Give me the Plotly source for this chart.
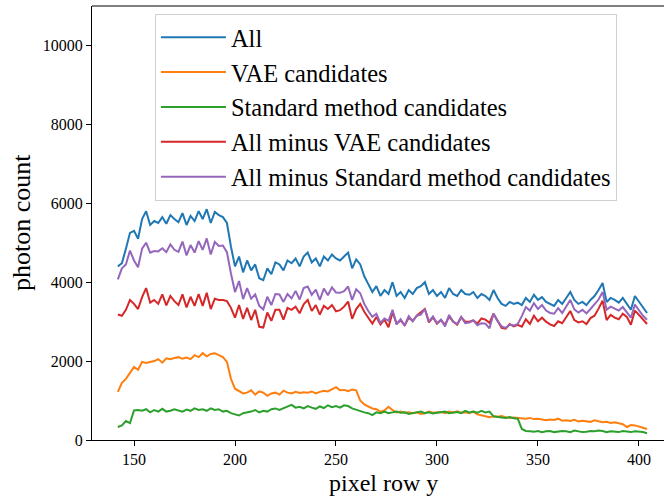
import plotly.graph_objects as go

rows = list(range(142, 406, 2))

all_counts = [
    4400, 4480, 4850, 5250, 5300, 5100, 5600, 5800, 5450, 5550,
    5500, 5650, 5480, 5700, 5600, 5520, 5750, 5450, 5680, 5550,
    5800, 5600, 5850, 5500, 5780, 5700, 5650, 5500, 4900, 4400,
    4650, 4250, 4550, 4300, 4450, 4100, 4050, 4350, 4200, 4500,
    4450, 4300, 4550, 4480, 4600, 4400, 4650, 4750, 4500, 4600,
    4400, 4650, 4550, 4700, 4600, 4550, 4650, 4750, 4350, 4580,
    4450, 4150, 3950, 3750, 3900, 3650, 3800, 3700, 4000, 3650,
    3750, 3600, 3800, 3700, 3850, 3900, 4000, 3700, 3800, 3650,
    3750, 3600, 3850, 3700, 3650, 3800, 3700, 3680, 3750, 3600,
    3700, 3650, 3550, 3800, 3600, 3450, 3400, 3500, 3450, 3480,
    3420, 3600, 3500, 3680, 3550, 3620, 3500, 3450, 3400, 3550,
    3450, 3600, 3750, 3550, 3450, 3500, 3420, 3550, 3650, 3800,
    3980, 3500, 3600, 3550, 3480, 3600, 3450, 3300, 3650, 3500,
    3350, 3220,
]

vae_counts = [
    1220, 1450, 1550, 1700, 1850, 1780, 1980, 1950, 1970, 2000,
    2050, 1960, 2070, 2050, 2080, 2100, 2060, 2090, 2050, 2150,
    2100, 2200, 2120, 2180, 2200, 2150, 2100, 1980, 1550, 1300,
    1230, 1180, 1200, 1260, 1150, 1230, 1200, 1120, 1180, 1200,
    1150, 1250, 1200, 1180, 1220, 1190, 1210, 1200, 1230, 1180,
    1220, 1250, 1230, 1280, 1340, 1260, 1270, 1240, 1280, 1260,
    1000, 900, 850, 800, 780, 720, 750, 840, 760, 700,
    720, 690, 700, 680, 700, 660, 680, 720, 690, 700,
    710, 680, 720, 700, 730, 690, 700, 680, 720, 650,
    620, 600, 580, 600, 590, 610, 580, 560, 570, 560,
    550, 540, 560, 530, 540, 520, 500, 520, 510, 540,
    490, 500, 480, 510, 470, 490, 480, 460, 500, 470,
    450, 460, 430, 450, 420, 400, 330, 380, 370, 330,
    310, 280,
]

std_counts = [
    330, 370, 480, 430, 750, 760, 740, 780, 700, 760,
    720, 790, 720, 740, 780, 750, 720, 770, 740, 800,
    760, 780, 740, 800, 760, 780, 720, 740, 680, 650,
    620, 680, 700, 720, 760, 700, 740, 720, 780, 800,
    760, 800, 850, 890, 820, 840, 800, 860, 820, 790,
    850, 810, 880, 830, 860, 820, 880, 860, 800, 760,
    730, 700, 680, 630, 700, 680, 720, 680, 700, 720,
    690, 700, 660, 690, 700, 720, 680, 700, 670, 690,
    700, 720, 680, 700, 710, 680, 740, 700, 720, 690,
    740, 700, 720, 600, 580, 570, 560, 580, 550, 540,
    280, 230, 220, 210, 230, 200, 220, 230, 200, 210,
    230, 220, 200, 240, 220, 200, 210, 230, 220, 240,
    230, 200, 220, 210, 200, 230, 210, 200, 220, 210,
    200, 170,
]

all_minus_vae = [
    3180, 3150, 3300, 3550, 3450, 3320, 3620, 3850, 3480, 3550,
    3450, 3690, 3410, 3650, 3520, 3420, 3690, 3360, 3630, 3400,
    3700, 3400, 3730, 3320, 3580, 3550, 3550, 3520, 3350, 3100,
    3420, 3070, 3350, 3040, 3300, 2870, 2850, 3230, 3020, 3300,
    3300, 3050, 3350, 3300, 3380, 3210, 3440, 3550, 3270, 3420,
    3180, 3400, 3320, 3420, 3260, 3290, 3380, 3510, 3070, 3320,
    3450, 3250, 3100, 2950, 3120, 2930, 3050, 2860, 3240, 2950,
    3030, 2910, 3100, 3020, 3150, 3240, 3320, 2980, 3110, 2950,
    3040, 2920, 3130, 3000, 2920, 3110, 3000, 3000, 3030, 2950,
    3080, 3050, 2970, 3200, 3010, 2840, 2820, 2940, 2880, 2920,
    2870, 3060, 2940, 3150, 3010, 3100, 3000, 2930, 2890, 3010,
    2960, 3100, 3270, 3040, 2980, 3010, 2940, 3090, 3150, 3330,
    3530, 3040, 3170, 3100, 3060, 3200, 3120, 2920, 3280, 3170,
    3040, 2940,
]

all_minus_std = [
    4070, 4350, 4450, 4800, 4550, 4380, 4850, 5000, 4750, 4790,
    4780, 4860, 4760, 4960, 4820, 4770, 5030, 4680, 4940, 4750,
    5040, 4820, 5110, 4700, 5020, 4920, 4930, 4760, 4220, 3750,
    4030, 3570, 3850, 3580, 3690, 3400, 3310, 3630, 3420, 3700,
    3690, 3500, 3700, 3590, 3780, 3560, 3850, 3890, 3680, 3810,
    3550, 3840, 3670, 3870, 3740, 3730, 3770, 3890, 3550, 3820,
    3720, 3450, 3270, 3120, 3200, 2970, 3080, 3020, 3300, 2930,
    3060, 2900, 3140, 3010, 3150, 3180, 3320, 3000, 3130, 2960,
    3050, 2880, 3170, 3000, 2940, 3120, 2960, 2980, 3030, 2910,
    2960, 2950, 2830, 3200, 3020, 2880, 2840, 2920, 2900, 2940,
    3140, 3370, 3280, 3470, 3320, 3420, 3280, 3220, 3200, 3340,
    3220, 3380, 3550, 3310, 3230, 3300, 3210, 3320, 3430, 3560,
    3750, 3300, 3380, 3340, 3280, 3370, 3240, 3100, 3430, 3290,
    3150, 3050,
]

series_names = [
    "All",
    "VAE candidates",
    "Standard method candidates",
    "All minus VAE candidates",
    "All minus Standard method candidates",
]
series_values = [all_counts, vae_counts, std_counts, all_minus_vae, all_minus_std]
colors = ["#1f77b4", "#ff7f0e", "#2ca02c", "#d62728", "#9467bd"]

x_ticks = [150, 200, 250, 300, 350, 400]
y_ticks = [0, 2000, 4000, 6000, 8000, 10000]
y_tick_labels = ["0", "2000", "4000", "6000", "8000", "10000"]
x_title = "pixel row y"
y_title = "photon count"

FONT = "Liberation Serif"

fig = go.Figure()
for i, (name, vals, col) in enumerate(zip(series_names, series_values, colors)):
    fig.add_trace(go.Scatter(
        x=rows, y=vals, mode="lines", name=name,
        line=dict(color=col, width=2),
        legendgroup=f"g{i}",
    ))

fig.update_layout(
    width=664, height=497,
    margin=dict(l=92, r=0, t=6, b=57),
    paper_bgcolor="white", plot_bgcolor="white",
    font=dict(family=FONT, color="black", size=16),
    showlegend=True,
    legend=dict(
        x=0.11, y=0.982, xanchor="left", yanchor="top",
        bgcolor="white", bordercolor="#d0d0d0", borderwidth=1,
        font=dict(family=FONT, size=24.5, color="black"),
        tracegroupgap=0, traceorder="grouped", itemwidth=65,
    ),
)
fig.update_xaxes(
    range=[129.2, 412.4], tickvals=x_ticks, ticks="outside", ticklen=5,
    tickwidth=1, tickcolor="black", showline=True, linecolor="black",
    linewidth=1, mirror=False, showgrid=False, zeroline=False,
    tickfont=dict(size=16),
)
fig.update_yaxes(
    range=[0, 11000], tickvals=y_ticks, ticktext=y_tick_labels,
    ticks="outside", ticklen=5,
    tickwidth=1, tickcolor="black", showline=True, linecolor="black",
    linewidth=1, mirror=False, showgrid=False, zeroline=False,
    tickfont=dict(size=16),
)
# top spine
fig.add_shape(type="line", xref="paper", yref="paper", x0=0, x1=1, y0=1, y1=1,
              line=dict(color="black", width=1))

fig.add_annotation(text=x_title, xref="paper", yref="paper", x=0.509, y=-0.099,
                   xanchor="center", yanchor="middle", showarrow=False,
                   font=dict(family=FONT, size=24, color="black"))
fig.add_annotation(text=y_title, xref="paper", yref="paper", x=-0.124, y=0.5,
                   xanchor="center", yanchor="middle", showarrow=False,
                   textangle=-90,
                   font=dict(family=FONT, size=26, color="black"))

fig.write_html("out.html")
